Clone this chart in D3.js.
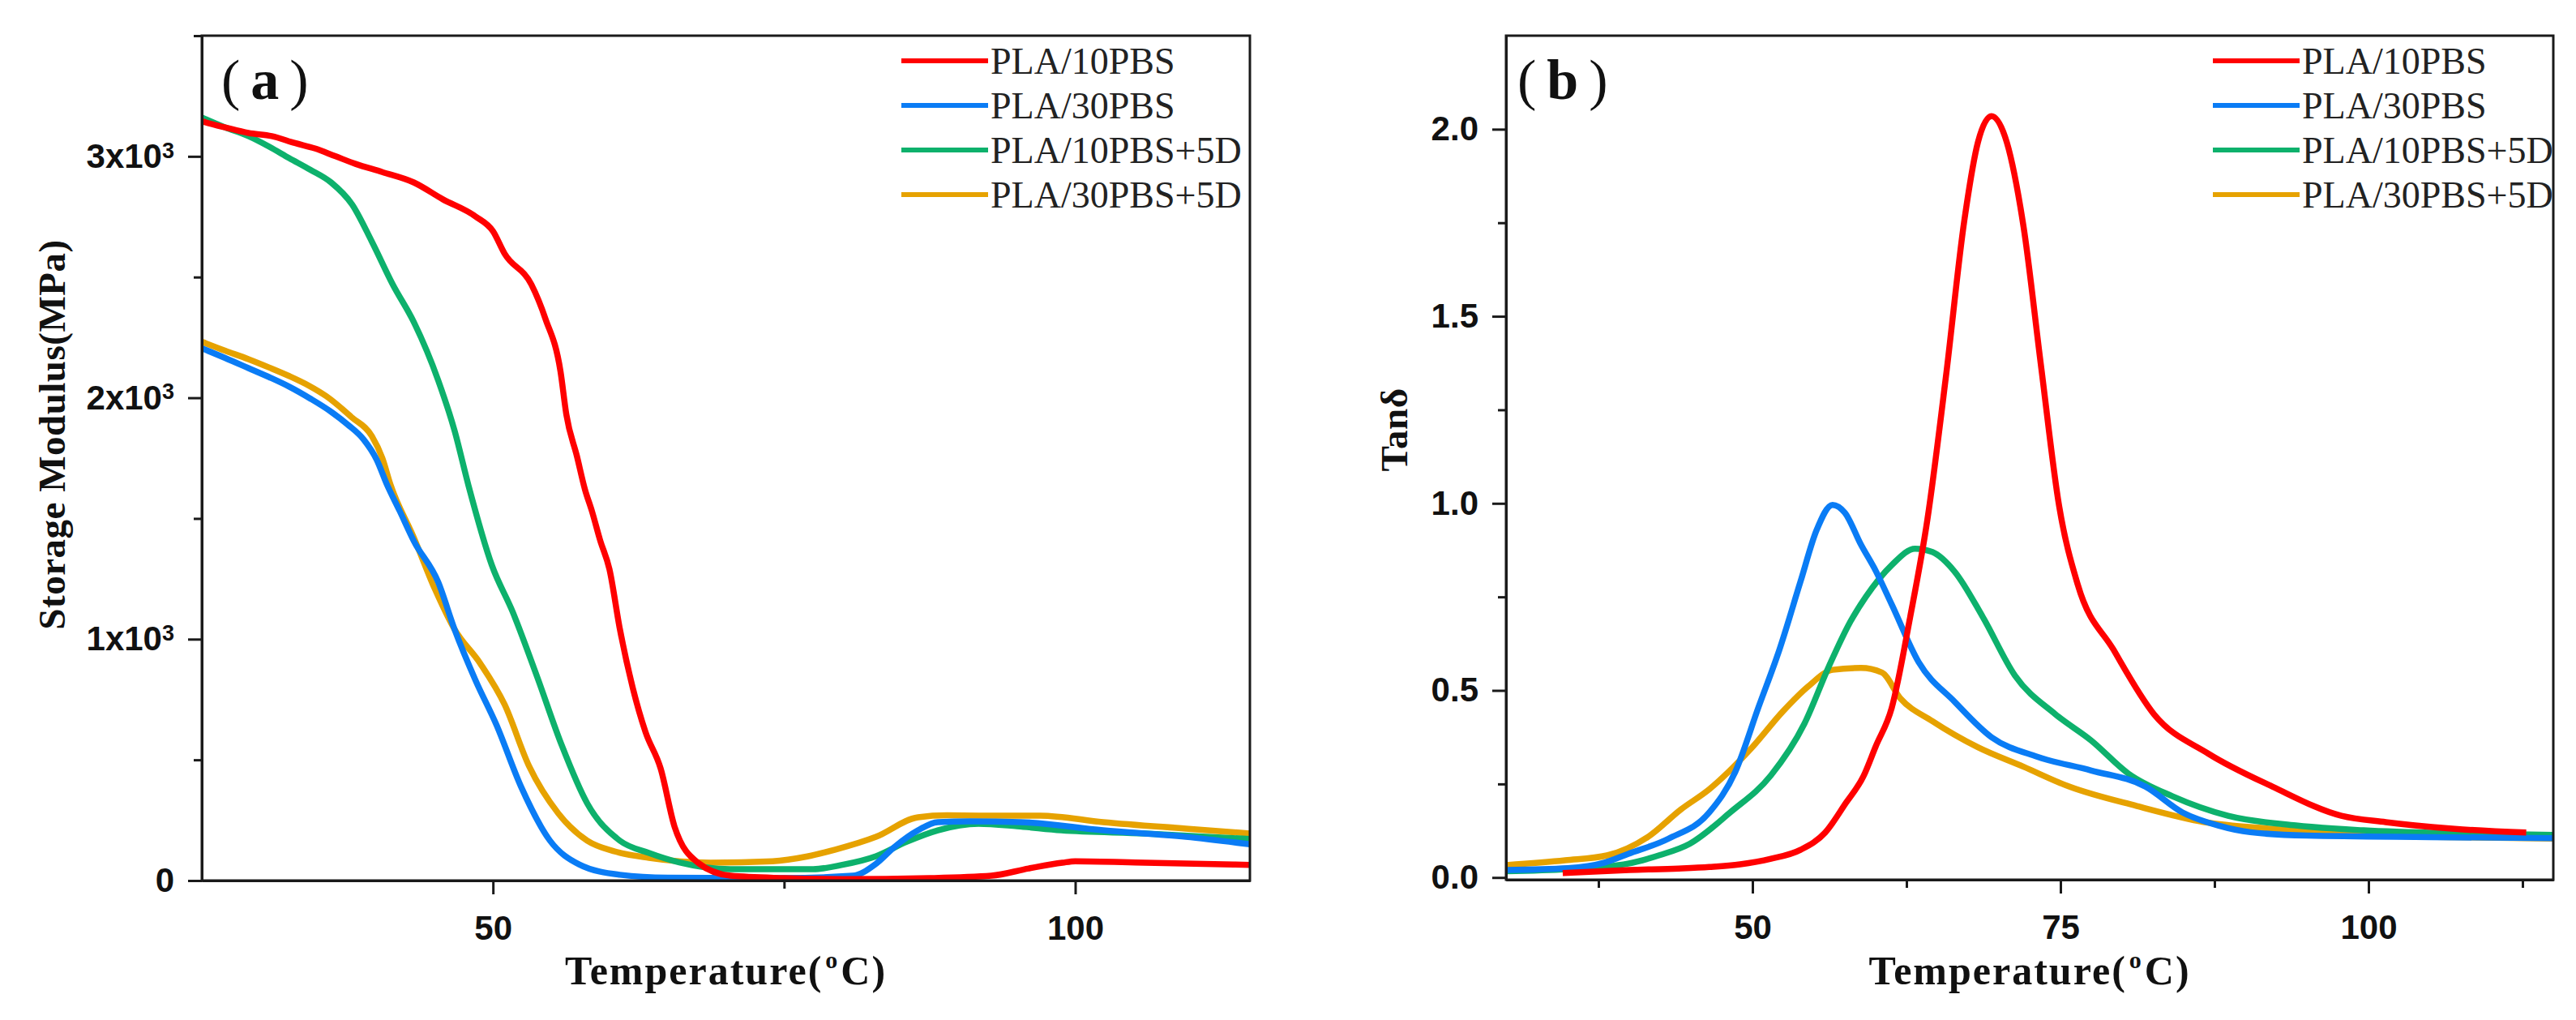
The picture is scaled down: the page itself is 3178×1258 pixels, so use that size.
<!DOCTYPE html>
<html>
<head>
<meta charset="utf-8">
<script src="https://cdn.jsdelivr.net/npm/d3@7/dist/d3.min.js"></script>
<style>
body { margin: 0; background: #fff; }
</style>
</head>
<body>
<div id="chart"></div>
<script>
// series names and colours (same order in both panels)
const seriesNames = ["PLA/10PBS", "PLA/30PBS", "PLA/10PBS+5D", "PLA/30PBS+5D"];
const seriesColors = ["#ff0000", "#0a7cf5", "#0db16c", "#e6a200"];

// (a) storage modulus, [temperature C, MPa]
const modulus10PBS = [[25,3145],[27,3120],[29,3097],[31,3084],[33,3055],[34.7,3033],[36.5,3000],[38.2,2969],[40.5,2935],[43.2,2892],[45.7,2822],[48.5,2751],[50,2690],[51,2597],[53.3,2469],[54.5,2328],[55.8,2109],[56.3,1931],[57.2,1760],[57.9,1620],[58.5,1530],[59.2,1410],[60,1290],[60.9,1041],[62,799],[63.1,615],[64.4,464],[65.6,222],[67.6,74],[70.4,20],[75,10],[80,6],[87.5,10],[92.8,20],[96,50],[98.9,74],[100,80],[106,74],[115,65]];
const modulus30PBS = [[25,2205],[27,2165],[29,2123],[30.8,2085],[32.5,2046],[34.3,1997],[36.1,1942],[37.5,1890],[38.9,1827],[40,1745],[40.9,1640],[42,1530],[43.2,1407],[45.3,1236],[46.7,1041],[48.5,830],[50.3,645],[52.4,390],[54.9,165],[57.4,67],[60.9,24],[65,12],[75,10],[80.9,20],[82.9,70],[84.5,140],[86.5,208],[88.2,242],[91,245],[95.3,242],[102.4,208],[109.5,181],[115,150]];
const modulus10PBS5D = [[25,3161],[27,3120],[29,3084],[30.8,3040],[32.5,2993],[34.3,2945],[36.1,2892],[37.9,2801],[39.6,2647],[41.4,2469],[43.2,2314],[45.3,2072],[46.7,1864],[47.9,1636],[49.9,1307],[51.7,1112],[53.8,843],[55.9,561],[58.1,319],[60.9,165],[63.4,114],[66,75],[70.4,47],[77.5,47],[80,65],[82.9,101],[85.5,160],[88.2,208],[91.7,235],[95,225],[98.8,208],[106,195],[115,172]];
const modulus30PBS5D = [[25,2232],[27,2195],[29,2160],[30.8,2125],[32.5,2090],[34.2,2050],[35.7,2006],[37.9,1918],[39.6,1841],[40.5,1750],[41.2,1640],[43.2,1421],[45,1209],[46.7,1041],[48.9,900],[51,729],[53.1,474],[55.6,279],[58.1,165],[60.5,120],[63.4,94],[68.7,74],[74,80],[77,100],[79.4,128],[82.9,181],[86.5,262],[89,270],[91.7,269],[97,269],[102.4,242],[109.5,215],[115,195]];

// (b) tan delta, [temperature C, tan d]
const tan10PBS = [[34.6,0.012],[40,0.02],[44,0.024],[46.5,0.028],[49,0.035],[51.5,0.05],[53.9,0.074],[55.9,0.12],[57.6,0.2],[59,0.27],[60,0.35],[61.3,0.453],[62.8,0.696],[64.2,0.957],[65.7,1.338],[67.2,1.757],[68.3,1.965],[69.4,2.035],[70.5,1.98],[72,1.74],[73.4,1.373],[74.9,0.991],[76.4,0.783],[79.3,0.609],[82.6,0.436],[87,0.331],[92.2,0.243],[97.8,0.165],[101.4,0.148],[107,0.13],[112.8,0.12]];
const tan30PBS = [[30,0.02],[35,0.025],[38,0.04],[39.9,0.063],[43.2,0.104],[46.5,0.174],[48.6,0.282],[50.5,0.456],[52.2,0.61],[53.9,0.791],[55.2,0.928],[56.5,0.996],[57.5,0.975],[58.8,0.89],[60,0.82],[61.3,0.73],[63.5,0.575],[66.4,0.47],[69.4,0.375],[73.1,0.323],[77.5,0.286],[81.9,0.243],[84.9,0.174],[87.8,0.139],[90.4,0.121],[95,0.112],[105,0.108],[115,0.105]];
const tan10PBS5D = [[30,0.017],[35,0.022],[39.9,0.037],[42.5,0.06],[44.9,0.09],[48.2,0.174],[51.5,0.273],[54.2,0.41],[56.2,0.564],[57.9,0.681],[59.2,0.75],[61.3,0.835],[63.2,0.879],[64.6,0.87],[66.4,0.818],[68.7,0.696],[71.3,0.54],[74.6,0.436],[77.5,0.366],[80.5,0.278],[84.1,0.217],[88.6,0.165],[94.1,0.139],[99.6,0.126],[107,0.118],[115,0.114]];
const tan30PBS5D = [[30,0.033],[34.8,0.046],[38.2,0.059],[41.5,0.108],[44.2,0.182],[46.5,0.236],[49.9,0.345],[52.5,0.445],[54.5,0.51],[56.5,0.555],[58.8,0.56],[60.5,0.548],[62,0.479],[64.6,0.418],[68.3,0.348],[72,0.296],[75.7,0.243],[81.2,0.191],[86.7,0.148],[92.2,0.13],[99.6,0.113],[107,0.108],[115,0.104]];

// ticks
const modTicks = [0, 1000, 2000, 3000];
const modMinorTicks = [500, 1500, 2500, 3500];
const modTempTicks = [50, 100];
const modTempMinor = [75];
const tanTicks = [0, 0.5, 1.0, 1.5, 2.0];
const tanMinorTicks = [0.25, 0.75, 1.25, 1.75];
const tanTempTicks = [50, 75, 100];
const tanTempMinor = [37.5, 62.5, 87.5, 112.5];

var width = 3178;
var height = 1258;
var ink = "#1a1a1a";

var svg = d3.select("#chart").append("svg")
    .attr("width", width)
    .attr("height", height);

svg.append("rect")
    .attr("width", width)
    .attr("height", height)
    .attr("fill", "#fff");

function drawPanel(p) {
    var x = d3.scaleLinear().domain(p.xDomain).range([p.left, p.right]);
    var y = d3.scaleLinear().domain(p.yDomain).range([p.bottom, p.top]);
    var g = svg.append("g");

    var clipId = "clip-" + p.id;
    g.append("clipPath").attr("id", clipId)
        .append("rect")
        .attr("x", p.left).attr("y", p.top)
        .attr("width", p.right - p.left).attr("height", p.bottom - p.top);

    var line = d3.line()
        .x(function(d) { return x(d[0]); })
        .y(function(d) { return y(d[1]); })
        .curve(d3.curveMonotoneX);

    // draw red last so it sits on top like in the figure
    var order = [3, 2, 1, 0];
    var lines = g.append("g").attr("clip-path", "url(#" + clipId + ")");
    order.forEach(function(i) {
        lines.append("path")
            .datum(p.series[i])
            .attr("fill", "none")
            .attr("stroke", seriesColors[i])
            .attr("stroke-width", 7.5)
            .attr("stroke-linejoin", "round")
            .attr("d", line);
    });

    // frame
    g.append("rect")
        .attr("x", p.left).attr("y", p.top)
        .attr("width", p.right - p.left).attr("height", p.bottom - p.top)
        .attr("fill", "none")
        .attr("stroke", ink)
        .attr("stroke-width", 3);

    // axes with major and minor ticks
    var xAxis = g.append("g")
        .attr("transform", "translate(0," + p.bottom + ")")
        .call(d3.axisBottom(x).tickValues(p.xTicks).tickSize(17).tickSizeOuter(0).tickPadding(14));
    g.append("g")
        .attr("transform", "translate(0," + p.bottom + ")")
        .call(d3.axisBottom(x).tickValues(p.xMinor).tickSize(10).tickSizeOuter(0).tickFormat(""));
    var yAxis = g.append("g")
        .attr("transform", "translate(" + p.left + ",0)")
        .call(d3.axisLeft(y).tickValues(p.yTicks).tickSize(17).tickSizeOuter(0).tickPadding(17).tickFormat(p.yFormat));
    g.append("g")
        .attr("transform", "translate(" + p.left + ",0)")
        .call(d3.axisLeft(y).tickValues(p.yMinor).tickSize(10).tickSizeOuter(0).tickFormat(""));

    g.selectAll(".domain").attr("stroke", ink).attr("stroke-width", 3);
    g.selectAll(".tick line").attr("stroke", ink).attr("stroke-width", 3);
    g.selectAll(".tick text")
        .attr("fill", "#111")
        .style("font-family", "'Liberation Sans', Arial, sans-serif")
        .style("font-weight", "bold")
        .style("font-size", "42px");
    xAxis.selectAll(".tick text").attr("dy", "1.0em");

    // superscript exponent for modulus labels
    if (p.superscript) {
        yAxis.selectAll(".tick text").each(function(d) {
            if (d === 0) return;
            var t = d3.select(this);
            t.append("tspan").attr("dy", "-0.45em").style("font-size", "27px").text("3");
        });
    }

    // x title
    var xt = g.append("text")
        .attr("x", (p.left + p.right) / 2)
        .attr("y", 1214)
        .attr("text-anchor", "middle")
        .attr("fill", "#111")
        .style("font-family", "'Liberation Serif', 'Times New Roman', serif")
        .style("font-weight", "bold")
        .style("font-size", "50px")
        .style("letter-spacing", "2px");
    xt.append("tspan").text("Temperature(");
    xt.append("tspan").attr("dx", 3).attr("dy", -20).style("font-size", "30px").text("o");
    xt.append("tspan").attr("dx", 2).attr("dy", 20).text("C)");

    // y title
    g.append("text")
        .attr("transform", "translate(" + p.yTitleX + "," + p.yTitleY + ") rotate(-90)")
        .attr("text-anchor", "middle")
        .attr("fill", "#111")
        .style("font-family", "'Liberation Serif', 'Times New Roman', serif")
        .style("font-weight", "bold")
        .style("font-size", "47px")
        .style("letter-spacing", "0.5px")
        .text(p.yTitle);

    // panel tag
    var tag = g.append("text")
        .attr("x", p.left + p.tagDx)
        .attr("y", 122)
        .attr("fill", "#111")
        .style("font-family", "'Liberation Serif', 'Times New Roman', serif")
        .style("font-size", "70px");
    tag.append("tspan").text("(");
    tag.append("tspan").attr("dx", 13).style("font-weight", "bold").text(p.tag);
    tag.append("tspan").attr("dx", 13).text(")");

    // legend
    var leg = g.append("g");
    seriesNames.forEach(function(name, i) {
        var ly = 75 + i * 55;
        leg.append("line")
            .attr("x1", p.legendX).attr("x2", p.legendX + 107)
            .attr("y1", ly).attr("y2", ly)
            .attr("stroke", seriesColors[i])
            .attr("stroke-width", 6);
        leg.append("text")
            .attr("x", p.legendX + 110)
            .attr("y", ly)
            .attr("dy", "0.35em")
            .attr("fill", "#222")
            .style("font-family", "'Liberation Serif', 'Times New Roman', serif")
            .style("font-size", "46px")
            .text(name);
    });
}

drawPanel({
    id: "a",
    left: 249, right: 1542, top: 44, bottom: 1086,
    xDomain: [25, 115], yDomain: [0, 3500],
    xTicks: modTempTicks, xMinor: modTempMinor,
    yTicks: modTicks, yMinor: modMinorTicks,
    yFormat: function(d) { return d === 0 ? "0" : (d / 1000) + "x10"; },
    superscript: true,
    series: [modulus10PBS, modulus30PBS, modulus10PBS5D, modulus30PBS5D],
    yTitle: "Storage Modulus(MPa)", yTitleX: 80, yTitleY: 536,
    tag: "a", tagDx: 24,
    legendX: 1112
});

drawPanel({
    id: "b",
    left: 1858, right: 3150, top: 44, bottom: 1085,
    xDomain: [30, 115], yDomain: [-0.006, 2.25],
    xTicks: tanTempTicks, xMinor: tanTempMinor,
    yTicks: tanTicks, yMinor: tanMinorTicks,
    yFormat: d3.format(".1f"),
    superscript: false,
    series: [tan10PBS, tan30PBS, tan10PBS5D, tan30PBS5D],
    yTitle: "Tanδ", yTitleX: 1736, yTitleY: 530,
    tag: "b", tagDx: 14,
    legendX: 2730
});
</script>
</body>
</html>
